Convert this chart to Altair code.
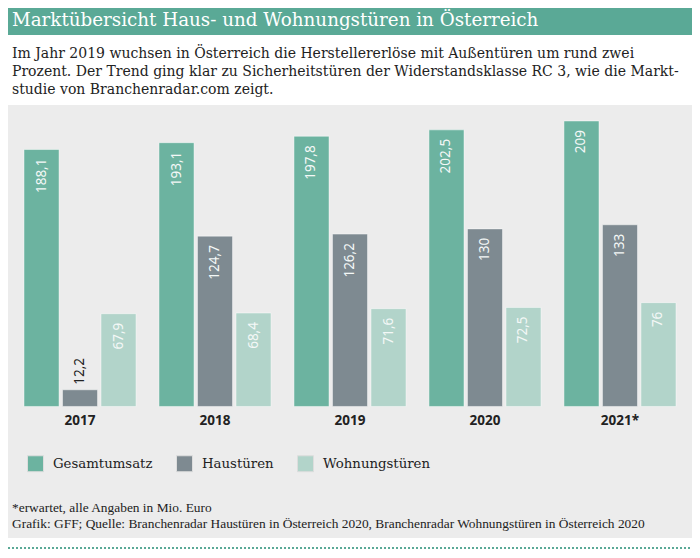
import altair as alt
import pandas as pd

TITLE = "Marktübersicht Haus- und Wohnungstüren in Österreich"
SUBTITLE = [
    "Im Jahr 2019 wuchsen in Österreich die Herstellererlöse mit Außentüren um rund zwei",
    "Prozent. Der Trend ging klar zu Sicherheitstüren der Widerstandsklasse RC 3, wie die Markt-",
    "studie von Branchenradar.com zeigt.",
]
FOOTNOTES = [
    "*erwartet, alle Angaben in Mio. Euro",
    "Grafik: GFF; Quelle: Branchenradar Haustüren in Österreich 2020, Branchenradar Wohnungstüren in Österreich 2020",
]
YEARS = ["2017", "2018", "2019", "2020", "2021*"]
SERIES = ["Gesamtumsatz", "Haustüren", "Wohnungstüren"]
GESAMT = [188.1, 193.1, 197.8, 202.5, 209]
HAUS = [12.2, 124.7, 126.2, 130, 133]
WOHN = [67.9, 68.4, 71.6, 72.5, 76]
COLORS = ["#6cb3a0", "#7e8a91", "#b2d4ca"]

rows = []
for s, vals in zip(SERIES, [GESAMT, HAUS, WOHN]):
    for y, v in zip(YEARS, vals):
        rows.append({"year": y, "series": s, "value": v})
df = pd.DataFrame(rows)

W, H = 684, 433
SERIF = "DejaVu Serif"
SANS = "Noto Sans"

x_enc = alt.X(
    "year:N", sort=YEARS,
    scale=alt.Scale(paddingInner=0.17, paddingOuter=0.1185),
    axis=alt.Axis(title=None, domain=False, ticks=False, labelAngle=0,
                  labelFont=SANS, labelFontWeight="bold", labelFontSize=13.5,
                  labelColor="#222222", labelPadding=7, offset=-131.5),
)
xo_enc = alt.XOffset("series:N", sort=SERIES,
                     scale=alt.Scale(paddingInner=0.09, paddingOuter=0))
y_enc = alt.Y("value:Q", scale=alt.Scale(domain=[-96.3, 220.7], nice=False, zero=False),
              axis=None)

base = alt.Chart(df).transform_calculate(
    label="replace(format(datum.value, ''), '.', ',')"
)

bars = base.mark_bar(stroke="#ffffff", strokeOpacity=0.45, strokeWidth=1).encode(
    x=x_enc, xOffset=xo_enc, y=y_enc, y2=alt.datum(0),
    color=alt.Color(
        "series:N",
        scale=alt.Scale(domain=SERIES, range=COLORS),
        legend=alt.Legend(orient="none", legendX=19, legendY=350, direction="horizontal",
                          title=None, symbolType="square", symbolSize=256,
                          symbolStrokeWidth=1, symbolStrokeColor="#dddddd",
                          symbolOpacity=1, labelFont=SERIF, labelFontSize=13.3,
                          labelColor="#222222", labelOffset=9, columnPadding=21),
    ),
)

inside = base.mark_text(angle=270, align="right", baseline="middle", dx=-9,
                        color="#f4f8f7", font=SANS, fontSize=13.5).transform_filter(
    "datum.value >= 30").encode(x=x_enc, xOffset=xo_enc, y=y_enc, text="label:N")

outside = base.mark_text(angle=270, align="left", baseline="middle", dx=5,
                         color="#222222", font=SANS, fontSize=13.5).transform_filter(
    "datum.value < 30").encode(x=x_enc, xOffset=xo_enc, y=y_enc, text="label:N")

one = pd.DataFrame({"k": [0]})

band = alt.Chart(one).mark_rect(color="#5aa996").encode(
    x=alt.value(0), x2=alt.value(W + 3), y=alt.value(-97), y2=alt.value(-70))

title = alt.Chart(one).mark_text(align="left", baseline="middle", font=SERIF,
                                 fontSize=18.3, color="#ffffff").encode(
    x=alt.value(4), y=alt.value(-84), text=alt.value(TITLE))

subtitle = alt.Chart(one).mark_text(align="left", baseline="top", font=SERIF,
                                    fontSize=14, lineHeight=18, color="#222222").encode(
    x=alt.value(4), y=alt.value(-58), text=alt.value(SUBTITLE))

foot = alt.Chart(one).mark_text(align="left", baseline="top", font="Liberation Serif",
                                fontSize=13.4, lineHeight=16, color="#222222").encode(
    x=alt.value(4), y=alt.value(396), text=alt.value(FOOTNOTES))

dots = alt.Chart(one).mark_rule(color="#5aa996", strokeDash=[2, 2], strokeWidth=2).encode(
    x=alt.value(0), x2=alt.value(W), y=alt.value(443))

chart = alt.layer(band, title, subtitle, bars, inside, outside, foot, dots).properties(
    width=W, height=H,
    autosize=alt.AutoSizeParams(type="none"),
    padding={"left": 0, "top": 97, "right": 0, "bottom": 12},
    background="#ffffff",
).configure_view(stroke=None, fill="#ececec")

chart.save("out.html", embed_options={"renderer": "svg", "actions": False})
